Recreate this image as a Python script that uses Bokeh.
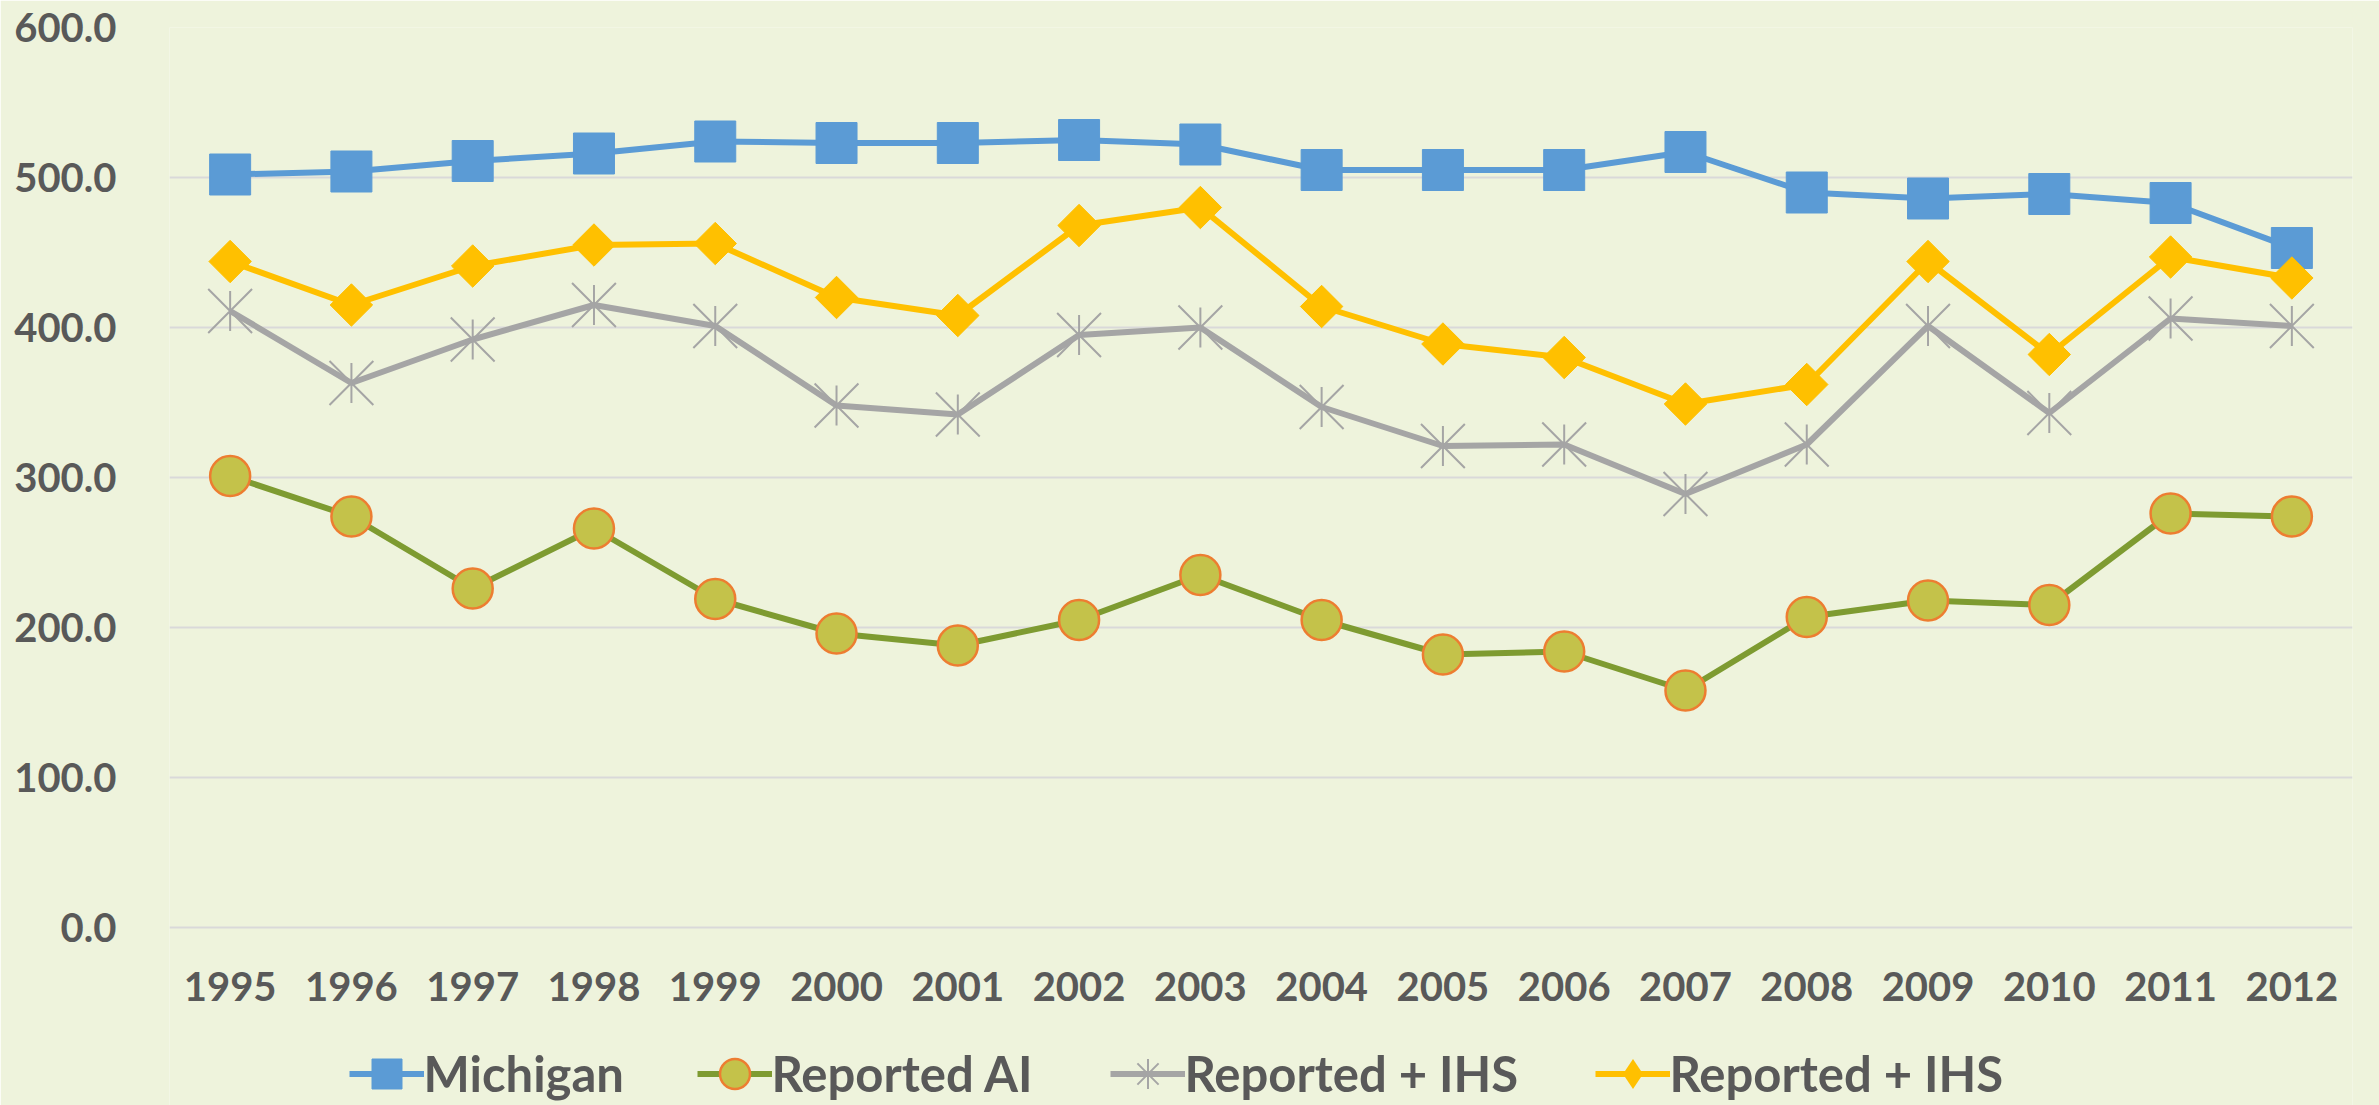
import math
from bokeh.plotting import figure
from bokeh.models import ColumnDataSource, Range1d, FactorRange, Legend, LegendItem, FixedTicker, PrintfTickFormatter
from bokeh.embed import file_html
from bokeh.resources import INLINE

# ---------------- data ----------------
years = ["1995", "1996", "1997", "1998", "1999", "2000", "2001", "2002", "2003",
         "2004", "2005", "2006", "2007", "2008", "2009", "2010", "2011", "2012"]
michigan = [502, 504, 511, 516, 524, 523, 523, 525, 522, 505, 505, 505, 517, 490, 486, 489, 483, 453]
reported_ai = [301, 274, 226, 266, 219, 196, 188, 205, 235, 205, 182, 184, 158, 207, 218, 215, 276, 274]
reported_ihs_a = [411, 363, 392, 415, 401, 348, 342, 395, 400, 347, 321, 322, 289, 322, 401, 343, 406, 401]
reported_ihs_b = [444, 415, 441, 455, 456, 420, 408, 468, 480, 414, 389, 380, 349, 362, 444, 382, 447, 433]
series_names = ["Michigan", "Reported AI", "Reported + IHS", "Reported + IHS"]
y_ticks = [0, 100, 200, 300, 400, 500, 600]

src = ColumnDataSource(dict(year=years, mi=michigan, ai=reported_ai, ihs_a=reported_ihs_a, ihs_b=reported_ihs_b))

# ---------------- style / layout ----------------
BG = "#EEF3DC"
TXT = "#595959"
BLUE = "#5B9BD5"
GREEN_LINE = "#7E9B31"
GREEN_FILL = "#C4C24A"
ORANGE = "#ED7D31"
GRAY = "#A5A5A5"
GOLD = "#FFC000"
FONT = "Lato"

W, H = 2379, 1105
LEFT, RIGHT, TOP = 169, 27, 27
PX_PER_UNIT = 1.5                       # 100 units = 150 px
Y_TOP = 600
Y_BOTTOM = Y_TOP - (H - TOP) / PX_PER_UNIT   # frame extends to the bottom so the legend fits inside

p = figure(x_range=FactorRange(*years, range_padding=0), y_range=Range1d(Y_BOTTOM, Y_TOP),
           width=W, height=H, output_backend="svg", toolbar_location=None,
           min_border_left=LEFT, min_border_right=RIGHT, min_border_top=TOP, min_border_bottom=0,
           background_fill_color=BG, border_fill_color=BG, outline_line_color=None)

# Michigan
r_mi_l = p.line("year", "mi", source=src, line_color=BLUE, line_width=6)
r_mi_m = p.scatter("year", "mi", source=src, marker="square", size=41, fill_color=BLUE, line_color=BLUE)
# Reported AI
r_ai_l = p.line("year", "ai", source=src, line_color=GREEN_LINE, line_width=6)
r_ai_m = p.scatter("year", "ai", source=src, marker="circle", size=40, fill_color=GREEN_FILL,
                   line_color=ORANGE, line_width=2.5)
# Reported + IHS (gray)
r_ga_l = p.line("year", "ihs_a", source=src, line_color=GRAY, line_width=6)
r_ga_x = p.scatter("year", "ihs_a", source=src, marker="x", size=62, line_color=GRAY, line_width=2)
r_ga_v = p.scatter("year", "ihs_a", source=src, marker="dash", angle=math.pi / 2, size=40,
                   line_color=GRAY, line_width=2)
# Reported + IHS (gold)
r_go_l = p.line("year", "ihs_b", source=src, line_color=GOLD, line_width=6)
r_go_m = p.scatter("year", "ihs_b", source=src, marker="square", angle=math.pi / 4, size=30,
                   fill_color=GOLD, line_color=GOLD)

# legend-only marker styles (zero size in the plot; the legend sizes its own glyphs)
r_ga_leg = p.scatter("year", "ihs_a", source=src, marker="asterisk", size=0, line_color=GRAY, line_width=2)
r_go_leg = p.scatter("year", "ihs_b", source=src, marker="diamond", size=0, fill_color=GOLD,
                     line_color=GOLD, line_width=0)

# axes
for ax in (p.xaxis, p.yaxis):
    ax.axis_line_color = None
    ax.major_tick_line_color = None
    ax.minor_tick_line_color = None
    ax.major_label_text_font = FONT
    ax.major_label_text_font_style = "bold"
    ax.major_label_text_font_size = "40px"
    ax.major_label_text_color = TXT
p.yaxis.ticker = FixedTicker(ticks=y_ticks)
p.yaxis.formatter = PrintfTickFormatter(format="%.1f")
p.yaxis.major_label_standoff = 47
p.xaxis.fixed_location = 0
p.xaxis.major_label_standoff = 38

p.xgrid.grid_line_color = None
p.ygrid.grid_line_color = "#D9D9D9"
p.ygrid.grid_line_width = 2

# legends, one per series, placed under the year labels
GW = 75
groups = [[r_mi_l, r_mi_m], [r_ai_l, r_ai_m], [r_ga_l, r_ga_leg], [r_go_l, r_go_leg]]
glyph_centres = [386, 734, 1147, 1632]
legend_centre_y = 1073
for name, rs, cx in zip(series_names, groups, glyph_centres):
    leg = Legend(items=[LegendItem(label=name, renderers=rs)],
                 location=(cx - GW / 2 - LEFT, (H - legend_centre_y) - GW / 2),
                 orientation="horizontal", glyph_width=GW, glyph_height=GW, label_standoff=0,
                 padding=0, margin=0, spacing=0, border_line_color=None, background_fill_alpha=0,
                 label_text_font=FONT, label_text_font_style="bold", label_text_font_size="49px",
                 label_text_color=TXT)
    p.add_layout(leg)

open("out.html", "w").write(file_html(p, INLINE))
